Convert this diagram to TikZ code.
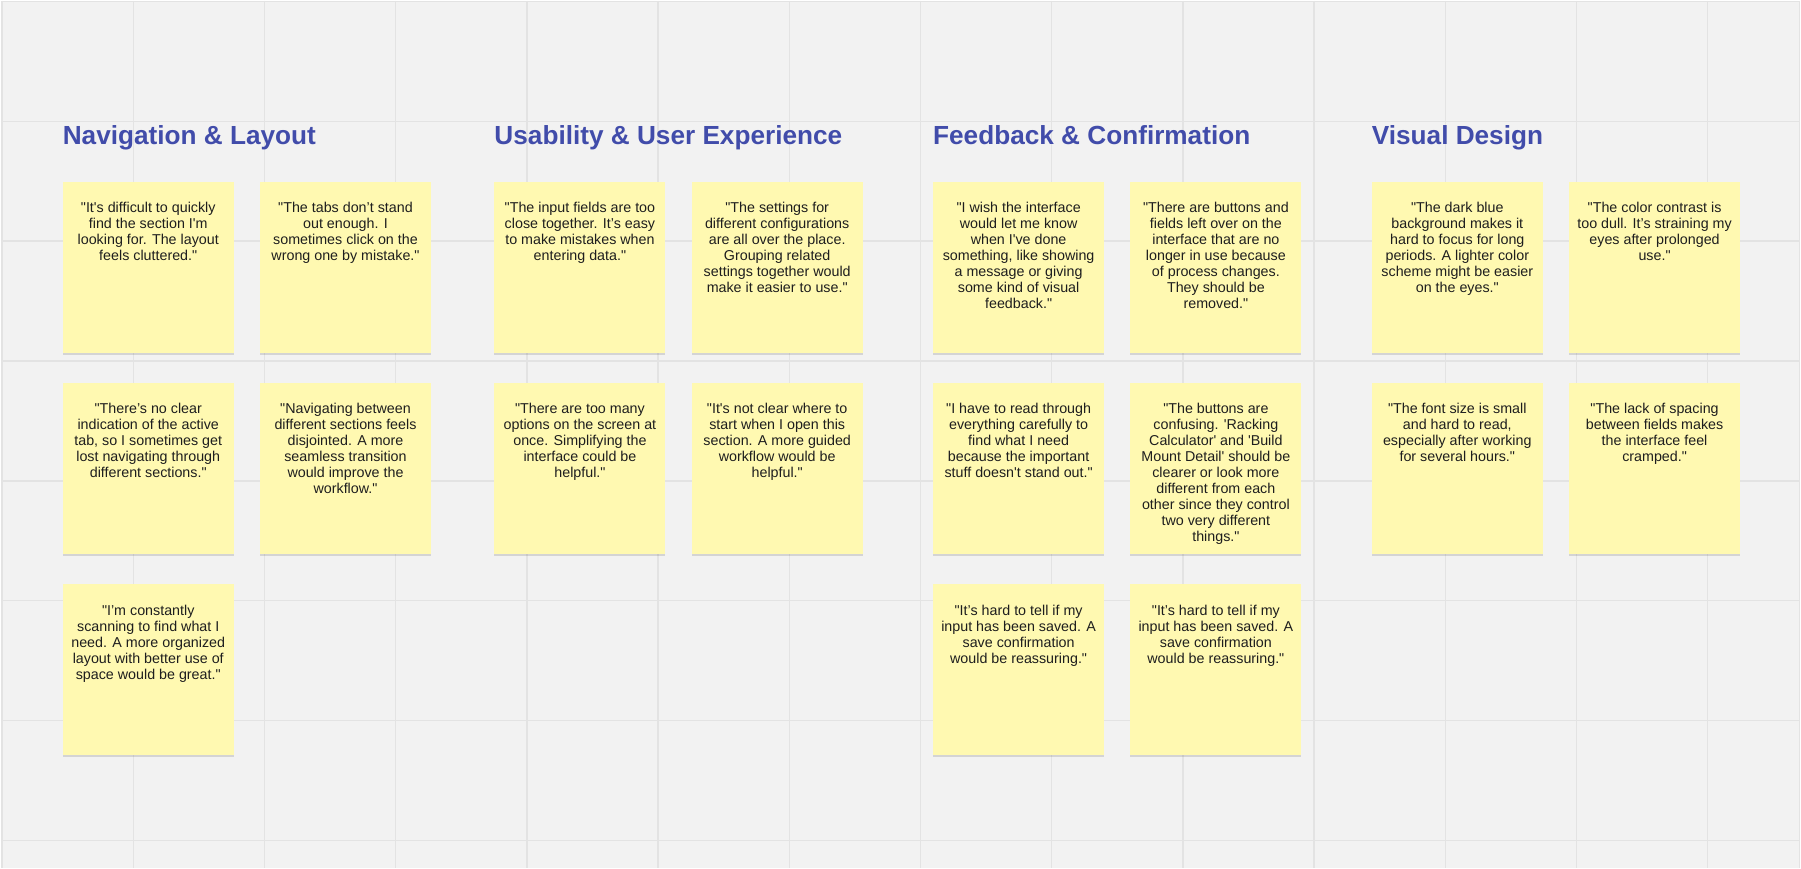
\documentclass[tikz,border=0pt]{standalone}
\usepackage{fontspec}
\usepackage{tikz}
\usetikzlibrary{positioning,shadows}

\newfontfamily\boardfont{Liberation Sans}

\definecolor{boardgray}{HTML}{F2F2F2}
\definecolor{gridgray}{HTML}{E3E3E3}
\definecolor{noteyellow}{HTML}{FFF9B1}
\definecolor{headblue}{RGB}{65,76,170}
\definecolor{inkblack}{HTML}{1E1E1E}

\tikzset{
    heading/.style={anchor=base west, inner sep=0pt, text=headblue,
        font={\boardfont\bfseries\fontsize{26.2}{30}\selectfont}},
    sticky/.style={anchor=north west, fill=noteyellow, inner sep=0pt,
        minimum width=171pt, minimum height=171pt,
        drop shadow={shadow xshift=0pt, shadow yshift=-2.2pt, opacity=0.12, fill=black}},
    notetext/.style={anchor=north, align=center, inner sep=0pt, text=inkblack,
        font={\boardfont\fontsize{14.3}{16}\selectfont}},
    gridline/.style={draw=gridgray, line width=1.3pt}
}

\begin{document}
\begin{tikzpicture}[x=1pt,y=-1pt]

% Board background and grid
\fill[boardgray] (0,0) rectangle (1801,868);
\foreach \k in {0,...,13} {
    \draw[gridline] ({1.4+131.3*\k},0) -- ({1.4+131.3*\k},868);
}
\foreach \k in {0,...,7} {
    \draw[gridline] (0,{0.6+120*\k}) -- (1801,{0.6+120*\k});
}
\draw[gridline] (1800,0) -- (1800,868);
\useasboundingbox (0,0) rectangle (1801,868);

% Navigation & Layout
\begin{scope}[shift={(62,0)}]
    \node[heading] (navhead) at (0,144) {Navigation \& Layout};
    \node[sticky] (nav1) at (0,181) {};
    \node[sticky, right=26pt of nav1] (nav2) {};
    \node[sticky, below=30pt of nav1] (nav3) {};
    \node[sticky, below=30pt of nav2] (nav4) {};
    \node[sticky, below=30pt of nav3] (nav5) {};
    \node[notetext] (nav1t) at ([yshift=-20.5pt]nav1.north) {"It's difficult to quickly\\find the section I'm\\looking for. The layout\\feels cluttered."};
    \node[notetext] (nav2t) at ([yshift=-20.5pt]nav2.north) {"The tabs don’t stand\\out enough. I\\sometimes click on the\\wrong one by mistake."};
    \node[notetext] (nav3t) at ([yshift=-20.5pt]nav3.north) {"There’s no clear\\indication of the active\\tab, so I sometimes get\\lost navigating through\\different sections."};
    \node[notetext] (nav4t) at ([yshift=-20.5pt]nav4.north) {"Navigating between\\different sections feels\\disjointed. A more\\seamless transition\\would improve the\\workflow."};
    \node[notetext] (nav5t) at ([yshift=-20.5pt]nav5.north) {"I’m constantly\\scanning to find what I\\need. A more organized\\layout with better use of\\space would be great."};
\end{scope}

% Usability & User Experience
\begin{scope}[shift={(494,0)}]
    \node[heading] (usehead) at (0,144) {Usability \& User Experience};
    \node[sticky] (use1) at (0,181) {};
    \node[sticky, right=26pt of use1] (use2) {};
    \node[sticky, below=30pt of use1] (use3) {};
    \node[sticky, below=30pt of use2] (use4) {};
    \node[notetext] (use1t) at ([yshift=-20.5pt]use1.north) {"The input fields are too\\close together. It’s easy\\to make mistakes when\\entering data."};
    \node[notetext] (use2t) at ([yshift=-20.5pt]use2.north) {"The settings for\\different configurations\\are all over the place.\\Grouping related\\settings together would\\make it easier to use."};
    \node[notetext] (use3t) at ([yshift=-20.5pt]use3.north) {"There are too many\\options on the screen at\\once. Simplifying the\\interface could be\\helpful."};
    \node[notetext] (use4t) at ([yshift=-20.5pt]use4.north) {"It's not clear where to\\start when I open this\\section. A more guided\\workflow would be\\helpful."};
\end{scope}

% Feedback & Confirmation
\begin{scope}[shift={(933,0)}]
    \node[heading] (fbhead) at (0,144) {Feedback \& Confirmation};
    \node[sticky] (fb1) at (0,181) {};
    \node[sticky, right=26pt of fb1] (fb2) {};
    \node[sticky, below=30pt of fb1] (fb3) {};
    \node[sticky, below=30pt of fb2] (fb4) {};
    \node[sticky, below=30pt of fb3] (fb5) {};
    \node[sticky, below=30pt of fb4] (fb6) {};
    \node[notetext] (fb1t) at ([yshift=-20.5pt]fb1.north) {"I wish the interface\\would let me know\\when I've done\\something, like showing\\a message or giving\\some kind of visual\\feedback."};
    \node[notetext] (fb2t) at ([yshift=-20.5pt]fb2.north) {"There are buttons and\\fields left over on the\\interface that are no\\longer in use because\\of process changes.\\They should be\\removed."};
    \node[notetext] (fb3t) at ([yshift=-20.5pt]fb3.north) {"I have to read through\\everything carefully to\\find what I need\\because the important\\stuff doesn't stand out."};
    \node[notetext] (fb4t) at ([yshift=-20.5pt]fb4.north) {"The buttons are\\confusing. 'Racking\\Calculator' and 'Build\\Mount Detail' should be\\clearer or look more\\different from each\\other since they control\\two very different\\things."};
    \node[notetext] (fb5t) at ([yshift=-20.5pt]fb5.north) {"It’s hard to tell if my\\input has been saved. A\\save confirmation\\would be reassuring."};
    \node[notetext] (fb6t) at ([yshift=-20.5pt]fb6.north) {"It’s hard to tell if my\\input has been saved. A\\save confirmation\\would be reassuring."};
\end{scope}

% Visual Design
\begin{scope}[shift={(1372,0)}]
    \node[heading] (vishead) at (0,144) {Visual Design};
    \node[sticky] (vis1) at (0,181) {};
    \node[sticky, right=26pt of vis1] (vis2) {};
    \node[sticky, below=30pt of vis1] (vis3) {};
    \node[sticky, below=30pt of vis2] (vis4) {};
    \node[notetext] (vis1t) at ([yshift=-20.5pt]vis1.north) {"The dark blue\\background makes it\\hard to focus for long\\periods. A lighter color\\scheme might be easier\\on the eyes."};
    \node[notetext] (vis2t) at ([yshift=-20.5pt]vis2.north) {"The color contrast is\\too dull. It’s straining my\\eyes after prolonged\\use."};
    \node[notetext] (vis3t) at ([yshift=-20.5pt]vis3.north) {"The font size is small\\and hard to read,\\especially after working\\for several hours."};
    \node[notetext] (vis4t) at ([yshift=-20.5pt]vis4.north) {"The lack of spacing\\between fields makes\\the interface feel\\cramped."};
\end{scope}

\end{tikzpicture}
\end{document}
